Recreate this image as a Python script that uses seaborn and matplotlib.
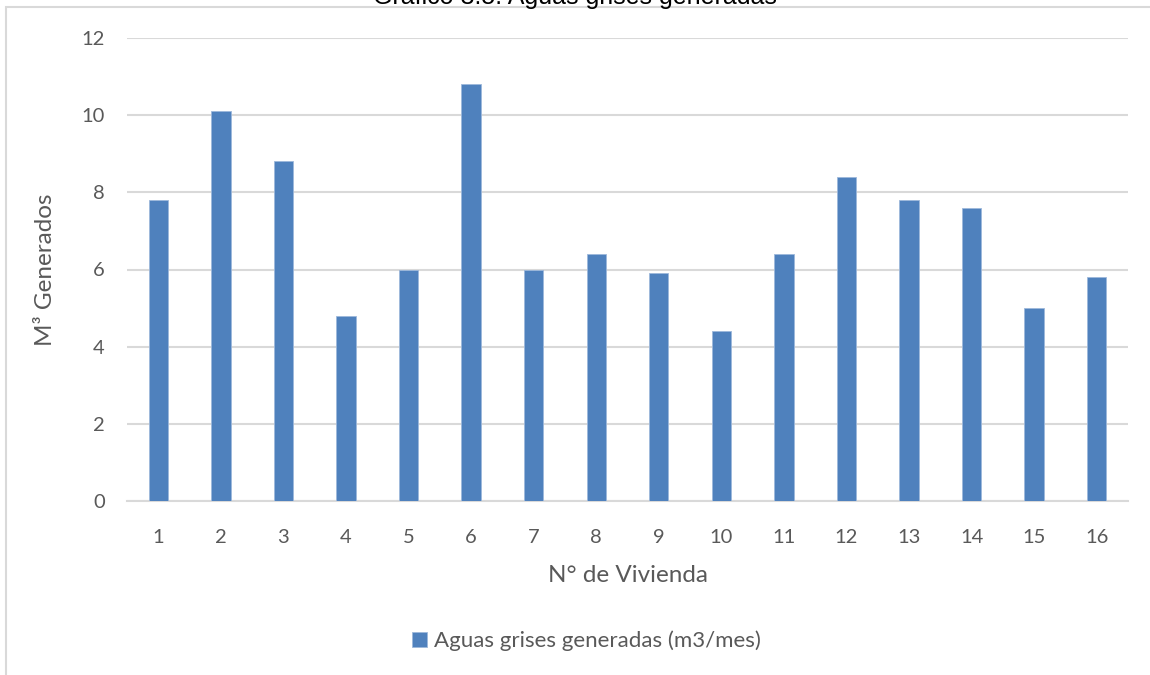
import matplotlib
matplotlib.use("Agg")
import matplotlib.pyplot as plt
from matplotlib.patches import Rectangle
import seaborn as sns
import pandas as pd

# Data: greywater generated per dwelling (m3/month)
viviendas = [str(i) for i in range(1, 17)]
valores = [7.8, 10.1, 8.8, 4.8, 6.0, 10.8, 6.0, 6.4, 5.9, 4.4, 6.4, 8.4, 7.8, 7.6, 5.0, 5.8]
y_ticks = [0, 2, 4, 6, 8, 10, 12]

titulo = "Gráfico 3.5: Aguas grises generadas"
x_label = "N° de Vivienda"
y_label = "M³ Generados"
serie = "Aguas grises generadas (m3/mes)"

sns.set_theme(style="white")
plt.rcParams["font.family"] = ["Lato", "DejaVu Sans"]

BAR = "#4F81BD"
GRID = "#D9D9D9"
TEXT = "#595959"

W, H = 1150, 675
fig = plt.figure(figsize=(W / 100, H / 100), dpi=100)
fig.patch.set_facecolor("white")

# outer chart frame
fig.patches.append(Rectangle((6 / W, -0.05), 1.2, 1 - 7 / H + 0.05,
                             transform=fig.transFigure, fill=False,
                             edgecolor=GRID, linewidth=1.5, zorder=0))

ax = fig.add_axes([127 / W, 1 - 501 / H, (1128 - 127) / W, (501 - 38) / H])

df = pd.DataFrame({"vivienda": viviendas, "valor": valores})
sns.barplot(data=df, x="vivienda", y="valor", color=BAR, width=0.31,
            saturation=1, edgecolor="#9db8db", linewidth=0.6,
            label=serie, ax=ax, zorder=3)

ax.set_ylim(0, 12)
ax.set_yticks(y_ticks)
ax.set_xlim(-0.5, len(viviendas) - 0.5)
ax.grid(axis="y", color=GRID, linewidth=1.5, zorder=0)
ax.grid(axis="x", visible=False)
for side in ["top", "right", "left"]:
    ax.spines[side].set_visible(False)
ax.spines["bottom"].set_color(GRID)
ax.spines["bottom"].set_linewidth(1.5)
ax.tick_params(axis="both", length=0, labelsize=14.5, colors=TEXT)
ax.tick_params(axis="y", pad=16)
ax.tick_params(axis="x", pad=20)

ax.set_xlabel(x_label, fontsize=17.5, color=TEXT, labelpad=14)
ax.set_ylabel(y_label, fontsize=17.5, color=TEXT, labelpad=18)

leg = ax.legend(loc="center", bbox_to_anchor=(0.459, -0.302), frameon=False,
                fontsize=16, labelcolor=TEXT, handlelength=0.7, handleheight=0.7,
                handletextpad=0.3)

fig.text(0.5, 1 - 4 / H, titulo, ha="center", va="baseline",
         fontsize=18, color="black", family=["Liberation Sans"])

fig.savefig("out.png", dpi=100, facecolor="white")
